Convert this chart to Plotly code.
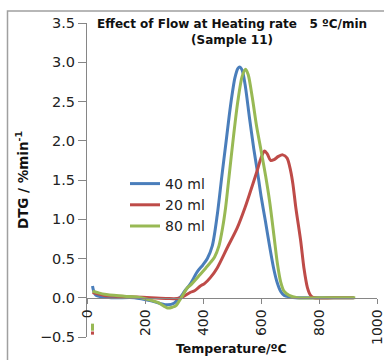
import plotly.graph_objects as go

# ---- data ----
x_40 = [19, 22, 31, 83, 163, 221, 250, 278, 300, 316, 325, 336, 357, 380, 400, 415, 432, 449,
        465, 480, 495, 510, 520, 527, 535, 545, 560, 575, 590, 600, 615, 630, 645, 656, 668,
        680, 700, 720, 800, 920]
y_40 = [0.15, 0.10, 0.03, 0.0, 0.0, -0.04, -0.07, -0.09, -0.07, -0.01, 0.02, 0.08, 0.18, 0.33,
        0.42, 0.50, 0.66, 1.05, 1.55, 2.00, 2.45, 2.80, 2.92, 2.94, 2.90, 2.72, 2.30, 1.90,
        1.55, 1.30, 0.98, 0.65, 0.35, 0.19, 0.08, 0.03, 0.01, 0.0, 0.0, 0.0]

x_20 = [19, 60, 100, 163, 221, 278, 311, 330, 357, 371, 391, 405, 426, 449, 484, 518, 545,
        564, 587, 600, 612, 622, 633, 645, 660, 675, 690, 702, 710, 720, 737, 748, 760, 771,
        783, 850, 920]
y_20 = [0.065, 0.03, 0.02, 0.01, 0.0, -0.01, -0.01, 0.01, 0.07, 0.09, 0.15, 0.18, 0.26, 0.38,
        0.64, 0.89, 1.15, 1.36, 1.62, 1.78, 1.87, 1.83, 1.75, 1.76, 1.80, 1.82, 1.78, 1.62,
        1.45, 1.15, 0.72, 0.38, 0.13, 0.03, 0.0, 0.0, 0.0]

x_80 = [19, 60, 129, 186, 244, 278, 295, 307, 325, 347, 357, 391, 410, 426, 440, 455, 468,
        478, 490, 505, 520, 535, 547, 556, 570, 585, 600, 616, 630, 645, 656, 668, 680, 697,
        725, 800, 925]
y_80 = [0.085, 0.045, 0.02, 0.0, -0.06, -0.13, -0.12, -0.10, 0.0, 0.13, 0.16, 0.30, 0.38,
        0.45, 0.52, 0.66, 0.90, 1.15, 1.55, 2.05, 2.50, 2.82, 2.91, 2.84, 2.55, 2.18, 1.88,
        1.55, 1.22, 0.78, 0.45, 0.20, 0.08, 0.03, 0.0, 0.0, 0.0]

# small stray marks near the origin
stray_x = [19, 19]
stray_80_y = [-0.33, -0.42]
stray_20_y = [-0.43, -0.47]

x_ticks = [0, 200, 400, 600, 800, 1000]

names = ["40 ml", "20 ml", "80 ml"]
colors = ["#4A7EBB", "#BE4B48", "#98B954"]

fig = go.Figure()
for nm, xs, ys, c in zip(names, [x_40, x_20, x_80], [y_40, y_20, y_80], colors):
    fig.add_trace(go.Scatter(x=xs, y=ys, name=nm, mode="lines",
                             line=dict(color=c, width=3, shape="spline", smoothing=0.8)))
fig.add_trace(go.Scatter(x=stray_x, y=stray_80_y, mode="lines", showlegend=False,
                         line=dict(color=colors[2], width=3)))
fig.add_trace(go.Scatter(x=stray_x, y=stray_20_y, mode="lines", showlegend=False,
                         line=dict(color=colors[1], width=3)))

L, R, T, B = 87, 7, 23, 23
W, H = 384, 360
pw, ph = W - L - R, H - T - B

def px(xp):
    return (xp - L) / pw

def py(yp):
    return (H - B - yp) / ph

FONT = "DejaVu Sans"
fig.update_layout(
    width=W, height=H,
    margin=dict(l=L, r=R, t=T, b=B, pad=0, autoexpand=False),
    paper_bgcolor="white", plot_bgcolor="white",
    font=dict(family=FONT, size=14, color="#222222"),
    showlegend=True,
    legend=dict(x=px(125), y=py(168), xanchor="left", yanchor="top",
                bgcolor="rgba(0,0,0,0)", font=dict(size=14, family=FONT),
                tracegroupgap=0),
    xaxis=dict(range=[0, 1000], tickmode="array", tickvals=x_ticks,
               ticktext=[str(v) for v in x_ticks], tickangle=-90, automargin=False,
               ticklabeloverflow="allow", showgrid=False, zeroline=False,
               showline=True, linecolor="#868686", linewidth=1,
               ticks="outside", ticklen=5, tickcolor="#868686",
               anchor="free", position=0.125,
               tickfont=dict(size=14, family=FONT)),
    yaxis=dict(range=[-0.5, 3.5], dtick=0.5, tickformat=".1f", showgrid=False, zeroline=False,
               showline=True, linecolor="#868686", linewidth=1, automargin=False,
               ticks="outside", ticklen=8, tickcolor="#868686",
               tickfont=dict(size=14.5, family=FONT),
               title=dict(text="<b>DTG / %min<sup>-1</sup></b>", standoff=8,
                          font=dict(size=13.5, family=FONT, color="#111111"))),
    annotations=[
        dict(text="<b>Effect of Flow at Heating rate   5 ºC/min</b><br><b>(Sample 11)</b>",
             xref="paper", yref="paper", x=px(232), y=py(31.5),
             xanchor="center", yanchor="middle", showarrow=False,
             font=dict(size=12, family=FONT, color="#111111")),
        dict(text="<b>Temperature/ºC</b>", xref="paper", yref="paper",
             x=px(231), y=py(348), xanchor="center", yanchor="middle",
             showarrow=False, font=dict(size=12.5, family=FONT, color="#111111"))],
    shapes=[dict(type="rect", xref="paper", yref="paper",
                 x0=px(7.5), x1=px(395), y0=py(370), y1=py(11),
                 line=dict(color="#A0A0A0", width=1.5), fillcolor="rgba(0,0,0,0)",
                 layer="below")],
)

fig.write_html("out.html")
